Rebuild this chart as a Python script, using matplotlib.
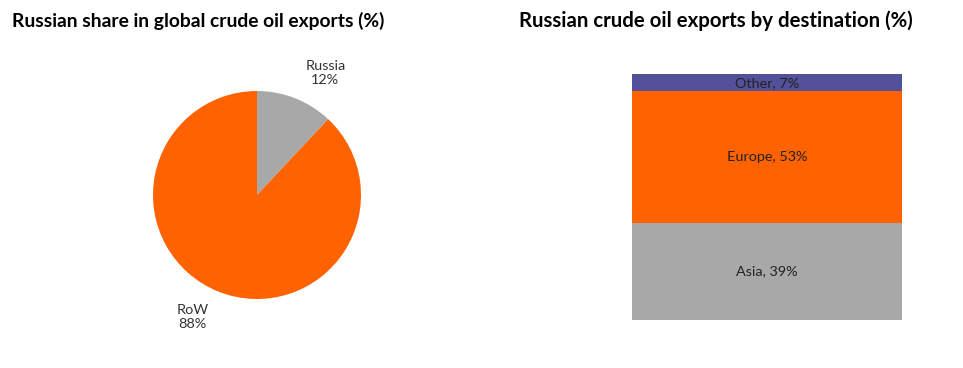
import matplotlib
matplotlib.use("Agg")
import matplotlib.pyplot as plt

# pie data
pie_labels = ["Russia", "RoW"]
pie_values = [12, 88]
pie_colors = ["#A8A8A8", "#FF6200"]

# stacked bar data (bottom to top)
dest_labels = ["Asia", "Europe", "Other"]
dest_values = [39, 53, 7]
dest_colors = ["#A8A8A8", "#FF6200", "#525199"]

W, H = 963, 368
fig = plt.figure(figsize=(W / 100, H / 100), dpi=100)

fig.text(12 / W, 1 - 21 / H, "Russian share in global crude oil exports (%)",
         fontfamily="Lato", fontweight="bold", fontsize=13.9, ha="left", va="center")
fig.text(519 / W, 1 - 21 / H, "Russian crude oil exports by destination (%)",
         fontfamily="Lato", fontweight="bold", fontsize=14.7, ha="left", va="center")

# pie
cx, cy, r = 257, 195, 104
ax = fig.add_axes([(cx - r) / W, (H - cy - r) / H, 2 * r / W, 2 * r / H])
ax.pie(pie_values, colors=pie_colors, startangle=90, counterclock=False,
       labels=[f"{l}\n{v}%" for l, v in zip(pie_labels, pie_values)],
       labeldistance=1.26,
       textprops=dict(fontfamily="Lato", fontsize=10.4, color="#333333", multialignment="center"),
       wedgeprops=dict(linewidth=0))
ax.set_xlim(-1, 1)
ax.set_ylim(-1, 1)
ax.set_aspect("auto")
ax.axis("off")

# stacked bar
bx0, bx1, by0, by1 = 632, 902, 320, 74
ax2 = fig.add_axes([bx0 / W, (H - by0) / H, (bx1 - bx0) / W, (by0 - by1) / H])
bottom = 0
for lab, v, c in zip(dest_labels, dest_values, dest_colors):
    ax2.bar(0, v, width=1, bottom=bottom, color=c, linewidth=0)
    ax2.text(0, bottom + v / 2, f"{lab}, {v}%", ha="center", va="center",
             fontfamily="Lato", fontsize=10.4, color="#222222")
    bottom += v
ax2.set_xlim(-0.5, 0.5)
ax2.set_ylim(0, sum(dest_values))
ax2.axis("off")

fig.savefig("out.png", dpi=100)
